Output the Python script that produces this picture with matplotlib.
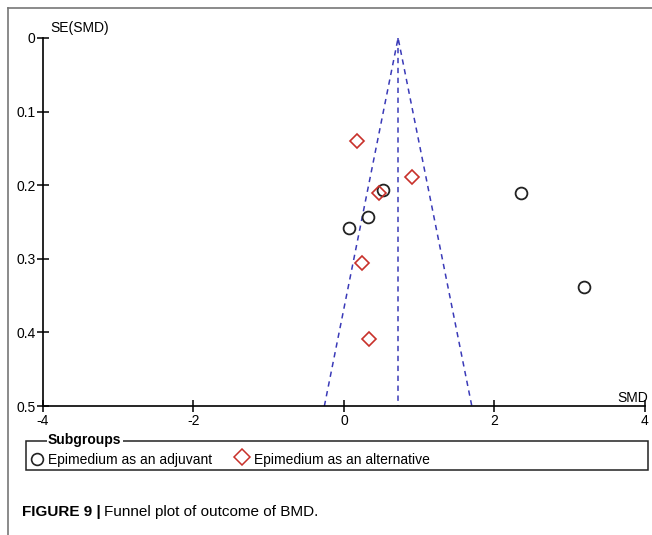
import matplotlib.pyplot as plt
from matplotlib.lines import Line2D
from matplotlib.patches import Rectangle

plt.rcParams['font.family'] = ['Liberation Sans', 'DejaVu Sans']

# study estimates (SMD, SE)
adj_smd = [0.52, 0.32, 0.07, 2.35, 3.19]
adj_se = [0.207, 0.243, 0.258, 0.211, 0.338]
alt_smd = [0.17, 0.90, 0.46, 0.24, 0.33]
alt_se = [0.140, 0.189, 0.211, 0.306, 0.409]
pooled = 0.72
se_max = 0.5
x_ticks = [-4, -2, 0, 2, 4]
y_ticks = [0, 0.1, 0.2, 0.3, 0.4, 0.5]
y_labels = ['0', '0.1', '0.2', '0.3', '0.4', '0.5']

fig = plt.figure(figsize=(6.52, 5.35), dpi=100)
ax = fig.add_axes([0.066, 0.241, 0.923, 0.688])

funnel_col = '#3a3ab8'
ax.plot([pooled - 1.96 * se_max, pooled, pooled + 1.96 * se_max], [se_max, 0, se_max],
        ls=(0, (3.5, 3)), color=funnel_col, lw=1.1)
ax.plot([pooled, pooled], [0, se_max], ls=(0, (3.5, 3)), color=funnel_col, lw=1.1)

ax.plot(adj_smd, adj_se, 'o', ms=8.5, mfc='none', mec='#222222', mew=1.3, ls='none')
ax.plot(alt_smd, alt_se, 'D', ms=7.5, mfc='none', mec='#c8302a', mew=1.2, ls='none')

ax.set_xlim(-4, 4)
ax.set_ylim(0.5, 0)
ax.set_xticks(x_ticks)
ax.set_xticklabels(['-4', '-2', '0', '2', '4'])
ax.set_yticks(y_ticks)
ax.set_yticklabels(y_labels)
ax.spines['top'].set_visible(False)
ax.spines['right'].set_visible(False)
for s in ['left', 'bottom']:
    ax.spines[s].set_linewidth(1.2)
ax.tick_params(axis='both', direction='inout', length=9, width=1.1, labelsize=10, pad=1)
ax.tick_params(axis='x', pad=1.5)

fig.text(0.077, 0.947, 'SE(SMD)', fontsize=10, ha='left', va='center')
fig.text(0.994, 0.257, 'SMD', fontsize=10, ha='right', va='center')

# legend box
box_top = 441
box_bot = 470
fig.add_artist(Rectangle((26 / 652, 1 - box_bot / 535), 622 / 652, (box_bot - box_top) / 535,
                         transform=fig.transFigure, fill=False, ec='#222222', lw=1.1))
fig.text(48 / 652, 1 - 440 / 535, 'Subgroups', fontsize=10, fontweight='bold',
         ha='left', va='center', bbox=dict(fc='white', ec='none', pad=1))
fig.add_artist(Line2D([37 / 652], [1 - 459 / 535], marker='o', ms=8.5, mfc='none',
                      mec='#222222', mew=1.2, transform=fig.transFigure))
fig.text(48 / 652, 1 - 460 / 535, 'Epimedium as an adjuvant', fontsize=10,
         ha='left', va='center')
fig.add_artist(Line2D([242 / 652], [1 - 457 / 535], marker='D', ms=8, mfc='none',
                      mec='#c8302a', mew=1.1, transform=fig.transFigure))
fig.text(254 / 652, 1 - 460 / 535, 'Epimedium as an alternative', fontsize=10,
         ha='left', va='center')

# page border lines
fig.add_artist(Line2D([8 / 652, 1], [1 - 8 / 535, 1 - 8 / 535], color='#777777',
                      lw=1.2, transform=fig.transFigure))
fig.add_artist(Line2D([8 / 652, 8 / 652], [0, 1 - 8 / 535], color='#777777',
                      lw=1.2, transform=fig.transFigure))

# caption
fig.text(22 / 652, 1 - 512 / 535, 'FIGURE 9 |', fontsize=11, fontweight='bold',
         ha='left', va='center')
fig.text(104 / 652, 1 - 512 / 535, 'Funnel plot of outcome of BMD.', fontsize=11,
         ha='left', va='center')

fig.savefig('out.png', dpi=100)
